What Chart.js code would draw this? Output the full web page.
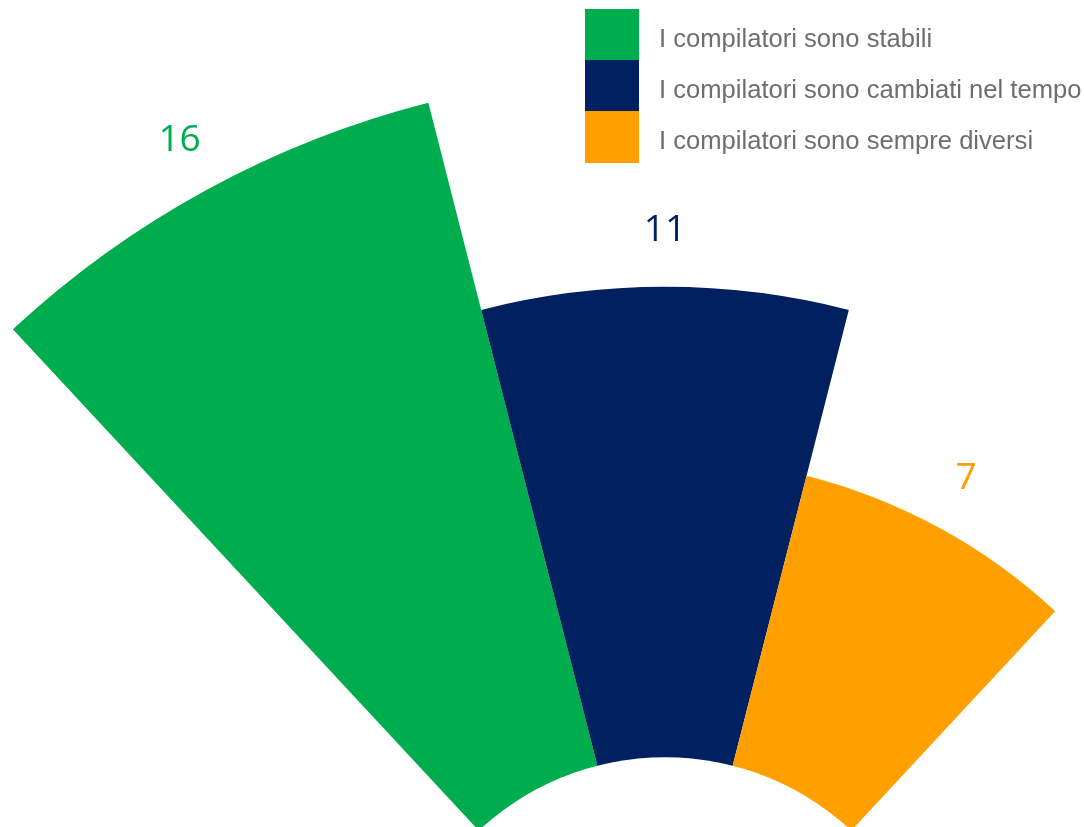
<!DOCTYPE html>
<html lang="it">
<head>
<meta charset="utf-8">
<title>Compilatori</title>
<script src="https://cdn.jsdelivr.net/npm/chart.js@4/dist/chart.umd.min.js"></script>
<style>
  html, body { margin: 0; padding: 0; background: #fff; }
  #wrap { position: relative; width: 1084px; height: 827px; overflow: hidden; }
  #chart { position: absolute; left: -293px; top: 73px; }
  #legend { position: absolute; left: 585px; top: 9px; }
  .row { display: flex; align-items: center; height: 51px; }
  .box { width: 54px; height: 52px; margin-right: 20px; }
  .txt { font-family: "Liberation Sans", Arial, sans-serif; font-size: 25.6px; color: #6e6e6e;
         white-space: nowrap; position: relative; top: 4px; }
</style>
</head>
<body>
<div id="wrap">
  <canvas id="chart" width="1916" height="1916"></canvas>
  <div id="legend"></div>
</div>
<script>
const labels = ['I compilatori sono stabili', 'I compilatori sono cambiati nel tempo', 'I compilatori sono sempre diversi'];
const values = [16, 11, 7];
const colors = ['#00ad4e', '#00205f', '#ffa000'];

// legend
const legend = document.getElementById('legend');
labels.forEach((l, i) => {
  const row = document.createElement('div');
  row.className = 'row';
  row.innerHTML = '<span class="box" style="background:' + colors[i] + '"></span><span class="txt">' + l + '</span>';
  legend.appendChild(row);
});

// hole in the middle + value labels
const holeAndLabels = {
  id: 'holeAndLabels',
  afterDatasetsDraw(chart) {
    const ctx = chart.ctx;
    const scale = chart.scales.r;
    const r0 = scale.getDistanceFromCenterForValue(0);
    ctx.save();
    ctx.fillStyle = '#fff';
    ctx.beginPath();
    ctx.arc(scale.xCenter, scale.yCenter, r0, 0, Math.PI * 2);
    ctx.fill();

    ctx.font = '37px "Open Sans", "Liberation Sans", sans-serif';
    ctx.textAlign = 'center';
    ctx.textBaseline = 'middle';
    chart.getDatasetMeta(0).data.forEach((arc, i) => {
      const p = arc.getProps(['x', 'y', 'startAngle', 'endAngle', 'outerRadius']);
      const mid = (p.startAngle + p.endAngle) / 2;
      const r = p.outerRadius + 56;
      ctx.fillStyle = colors[i];
      ctx.fillText(String(values[i]), p.x + Math.cos(mid) * r, p.y + Math.sin(mid) * r);
    });
    ctx.restore();
  }
};

new Chart(document.getElementById('chart'), {
  type: 'polarArea',
  data: {
    labels: labels,
    datasets: [{
      data: values,
      backgroundColor: colors,
      borderWidth: 0,
      angle: 28.6
    }]
  },
  options: {
    responsive: false,
    animation: false,
    plugins: { legend: { display: false }, tooltip: { enabled: false } },
    scales: {
      r: {
        min: -6.4,
        max: 16,
        startAngle: -42.9,
        ticks: { display: false },
        grid: { display: false },
        angleLines: { display: false },
        pointLabels: { display: false }
      }
    }
  },
  plugins: [holeAndLabels]
});
</script>
</body>
</html>
